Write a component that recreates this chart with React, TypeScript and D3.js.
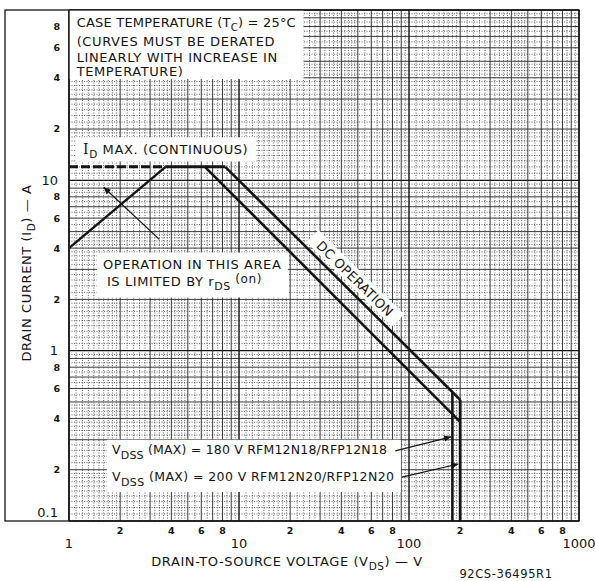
import React from 'react'
import * as d3 from 'd3'

// axis ranges (log-log)
const xDomain = [1, 1000]
const yDomain = [0.1, 100]

const xMinorLabels = [2, 4, 6, 8, 20, 40, 60, 80, 200, 400, 600, 800]
const xDecadeLabels = [1, 10, 100, 1000]
const yMinorLabels = [0.2, 0.4, 0.6, 0.8, 2, 4, 6, 8, 20, 40, 60, 80]
const yDecadeLabels = [0.1, 1, 10]

// curves, [V, A]
const idMaxDashed = [[1, 12], [3.7, 12]]
const idMaxSolid = [[3.7, 12], [8.3, 12]]
const rdsLimit = [[1, 4.0], [3.7, 12]]
const dcInner = [[6.3, 12], [200, 0.382]]
const dcOuter = [[8.3, 12], [200, 0.515]]
const vdss180 = [[180, 0.573], [180, 0.1]]
const vdss200 = [[200, 0.515], [200, 0.1]]

// annotation arrows, [V, A]
const rdsArrow = [[3.4, 4.5], [1.6, 9.1]]
const vdss180Arrow = [[83, 0.258], [177, 0.312]]
const vdss200Arrow = [[91, 0.181], [195, 0.216]]

// white label boxes, [[V0, A0], [V1, A1]]
const caseBox = [[1, 100], [24, 39.3]]
const idMaxBox = [[1.09, 17.9], [12.4, 12.9]]
const rdsBox = [[1.46, 3.77], [19.4, 2.05]]
const vdssBox = [[1.67, 0.3], [89.5, 0.148]]

// text anchors, [V, A]
const caseLines = [
  [1.11, 80],
  [1.11, 61.4],
  [1.11, 49.8],
  [1.11, 40.9],
]
const idMaxAt = [1.21, 14.2]
const rdsLines = [[1.585, 3.0], [1.672, 2.41]]
const dcLabelAt = [48.1, 2.65]
const vdssLines = [[1.79, 0.2478], [1.79, 0.171]]

const W = 595
const H = 581
const frame = { left: 5, top: 10, right: 579, bottom: 521 }
const plot = { left: 69, top: 10, right: 579, bottom: 521 }
const font = 'DejaVu Sans, Verdana, sans-serif'
const ink = '#141414'

const x = d3.scaleLog().domain(xDomain).range([plot.left, plot.right])
const y = d3.scaleLog().domain(yDomain).range([plot.bottom, plot.top])
const line = d3.line<number[]>().x(d => x(d[0])).y(d => y(d[1]))

const lead = (v: number) => Math.round(v / Math.pow(10, Math.floor(Math.log10(v) + 1e-9)))

// log paper rulings
const ruling = (domain: number[]) => {
  const decade: number[] = []
  const solid: number[] = []
  const dotted: number[] = []
  const e0 = Math.round(Math.log10(domain[0]))
  const e1 = Math.round(Math.log10(domain[1]))
  for (let e = e0; e < e1; e++) {
    const b = Math.pow(10, e)
    decade.push(b)
    for (let k = 2; k <= 9; k++) solid.push(k * b)
    for (let k = 11; k < 20; k++) dotted.push((k / 10) * b)
    for (let k = 22; k < 50; k += 2) if (k % 10) dotted.push((k / 10) * b)
    for (let k = 55; k < 100; k += 10) dotted.push((k / 10) * b)
  }
  decade.push(domain[1])
  return { decade, solid, dotted }
}

const box = (b: number[][]) => ({
  x: x(b[0][0]),
  y: y(b[0][1]),
  width: x(b[1][0]) - x(b[0][0]),
  height: y(b[1][1]) - y(b[0][1]),
})

const App = () => {
  const gx = ruling(xDomain)
  const gy = ruling(yDomain)
  const txt = { fontFamily: font, fill: ink, fontSize: 13, letterSpacing: 0.6 }

  return (
    <svg width={W} height={H} style={{ position: 'absolute', left: 0, top: 0, background: '#fff' }}>
      <defs>
        <marker id='head' viewBox='0 0 10 10' refX='10' refY='5' markerUnits='userSpaceOnUse'
          markerWidth='9' markerHeight='7' orient='auto'>
          <path d='M0,0.5 L10,5 L0,9.5 z' fill={ink} />
        </marker>
      </defs>

      {/* grid */}
      <g>
        {gx.dotted.map((v, i) => (
          <line key={'xd' + i} x1={x(v)} x2={x(v)} y1={plot.top} y2={plot.bottom}
            stroke='#333' strokeWidth={0.75} strokeDasharray='1,1.5' />
        ))}
        {gy.dotted.map((v, i) => (
          <line key={'yd' + i} x1={plot.left} x2={plot.right} y1={y(v)} y2={y(v)}
            stroke='#333' strokeWidth={0.75} strokeDasharray='1,1.5' />
        ))}
        {gx.solid.map((v, i) => (
          <line key={'xs' + i} x1={x(v)} x2={x(v)} y1={plot.top} y2={plot.bottom}
            stroke='#222' strokeWidth={0.9} />
        ))}
        {gy.solid.map((v, i) => (
          <line key={'ys' + i} x1={plot.left} x2={plot.right} y1={y(v)} y2={y(v)}
            stroke='#222' strokeWidth={0.9} />
        ))}
        {gx.decade.map((v, i) => (
          <line key={'xD' + i} x1={x(v)} x2={x(v)} y1={plot.top} y2={plot.bottom}
            stroke='#111' strokeWidth={1.4} />
        ))}
        {gy.decade.map((v, i) => (
          <line key={'yD' + i} x1={plot.left} x2={plot.right} y1={y(v)} y2={y(v)}
            stroke='#111' strokeWidth={1.4} />
        ))}
      </g>

      {/* white label boxes */}
      {[caseBox, idMaxBox, rdsBox, vdssBox].map((b, i) => (
        <rect key={'b' + i} {...box(b)} fill='#fff' />
      ))}

      {/* frame */}
      <rect x={frame.left} y={frame.top} width={frame.right - frame.left} height={frame.bottom - frame.top}
        fill='none' stroke={ink} strokeWidth={1.3} />
      <line x1={plot.left} x2={plot.left} y1={plot.top} y2={plot.bottom} stroke={ink} strokeWidth={1.4} />

      {/* DC OPERATION label */}
      <g transform={`translate(${x(dcLabelAt[0])},${y(dcLabelAt[1])}) rotate(44.5)`}>
        <rect x={-60} y={-9} width={120} height={17} fill='#fff' />
        <text {...txt} letterSpacing={0.3} textAnchor='middle' dy='0.36em'>DC OPERATION</text>
      </g>

      {/* curves */}
      <path d={line(idMaxDashed) || ''} fill='none' stroke={ink} strokeWidth={3} strokeDasharray='9,3' />
      <path d={line(idMaxSolid) || ''} fill='none' stroke={ink} strokeWidth={3} />
      <path d={line(rdsLimit) || ''} fill='none' stroke={ink} strokeWidth={2.4} />
      <path d={line(dcInner) || ''} fill='none' stroke={ink} strokeWidth={2.6} />
      <path d={line(dcOuter) || ''} fill='none' stroke={ink} strokeWidth={2.6} />
      <path d={line(vdss180) || ''} fill='none' stroke={ink} strokeWidth={2.6} />
      <path d={line(vdss200) || ''} fill='none' stroke={ink} strokeWidth={2.8} />

      {/* arrows */}
      {[rdsArrow, vdss180Arrow, vdss200Arrow].map((a, i) => (
        <path key={'a' + i} d={line(a) || ''} fill='none' stroke={ink} strokeWidth={1.2} markerEnd='url(#head)' />
      ))}

      {/* annotations */}
      <text {...txt} letterSpacing={0.2} x={x(caseLines[0][0])} y={y(caseLines[0][1])}>
        CASE TEMPERATURE (T<tspan fontSize={10} dy={4}>C</tspan><tspan dy={-4}>) = 25°C</tspan>
      </text>
      <text {...txt} x={x(caseLines[1][0])} y={y(caseLines[1][1])}>(CURVES MUST BE DERATED</text>
      <text {...txt} x={x(caseLines[2][0])} y={y(caseLines[2][1])}>LINEARLY WITH INCREASE IN</text>
      <text {...txt} x={x(caseLines[3][0])} y={y(caseLines[3][1])}>TEMPERATURE)</text>

      <text {...txt} x={x(idMaxAt[0])} y={y(idMaxAt[1])}>
        <tspan fontFamily='DejaVu Serif, serif' fontSize={14}>I</tspan>
        <tspan fontSize={10.5} dy={4}>D</tspan>
        <tspan dy={-4}> MAX. (CONTINUOUS)</tspan>
      </text>

      <text {...txt} x={x(rdsLines[0][0])} y={y(rdsLines[0][1])}>OPERATION IN THIS AREA</text>
      <text {...txt} x={x(rdsLines[1][0])} y={y(rdsLines[1][1])}>
        IS LIMITED BY r<tspan fontSize={11} dy={4}>DS</tspan>
        <tspan fontSize={12} dy={-7}> (on)</tspan>
      </text>

      <text {...txt} fontSize={12.5} letterSpacing={0.2} x={x(vdssLines[0][0])} y={y(vdssLines[0][1])}>
        V<tspan fontSize={11} dy={5}>DSS</tspan>
        <tspan dy={-5}> (MAX) = 180 V RFM12N18/RFP12N18</tspan>
      </text>
      <text {...txt} fontSize={12.5} letterSpacing={0.4} x={x(vdssLines[1][0])} y={y(vdssLines[1][1])}>
        V<tspan fontSize={11} dy={5}>DSS</tspan>
        <tspan dy={-5}> (MAX) = 200 V RFM12N20/RFP12N20</tspan>
      </text>

      {/* y ticks */}
      {yMinorLabels.map((v, i) => (
        <text key={'ym' + i} x={plot.left - 9} y={y(v)} dy='0.36em' textAnchor='end'
          fontFamily={font} fontWeight='bold' fontSize={9.5} fill={ink}>{lead(v)}</text>
      ))}
      {yDecadeLabels.map((v, i) => (
        <text key={'yD' + i} x={plot.left - 11} y={v === 0.1 ? plot.bottom - 4 : y(v)}
          dy={v === 0.1 ? 0 : '0.36em'} textAnchor='end'
          fontFamily={font} fontSize={13} fill={ink}>{v === 0.1 ? '0.1' : v}</text>
      ))}

      {/* x ticks */}
      {xMinorLabels.map((v, i) => (
        <text key={'xm' + i} x={x(v)} y={534} textAnchor='middle'
          fontFamily={font} fontWeight='bold' fontSize={9.5} fill={ink}>{lead(v)}</text>
      ))}
      {xDecadeLabels.map((v, i) => (
        <text key={'xD' + i} x={x(v)} y={548} textAnchor='middle'
          fontFamily={font} fontSize={13} fill={ink}>{v}</text>
      ))}

      {/* axis titles */}
      <text {...txt} x={287} y={566} textAnchor='middle'>
        DRAIN-TO-SOURCE VOLTAGE (V<tspan fontSize={10.5} dy={4}>DS</tspan>
        <tspan dy={-4}>) — V</tspan>
      </text>
      <text {...txt} transform='translate(31,273) rotate(-90)' textAnchor='middle'>
        DRAIN CURRENT (I<tspan fontSize={10.5} dy={4}>D</tspan>
        <tspan dy={-4}>) — A</tspan>
      </text>
      <text x={506} y={578} textAnchor='middle' fontFamily={font} fontSize={11.5}
        letterSpacing={0.6} fill={ink}>92CS-36495R1</text>
    </svg>
  )
}

export default App
